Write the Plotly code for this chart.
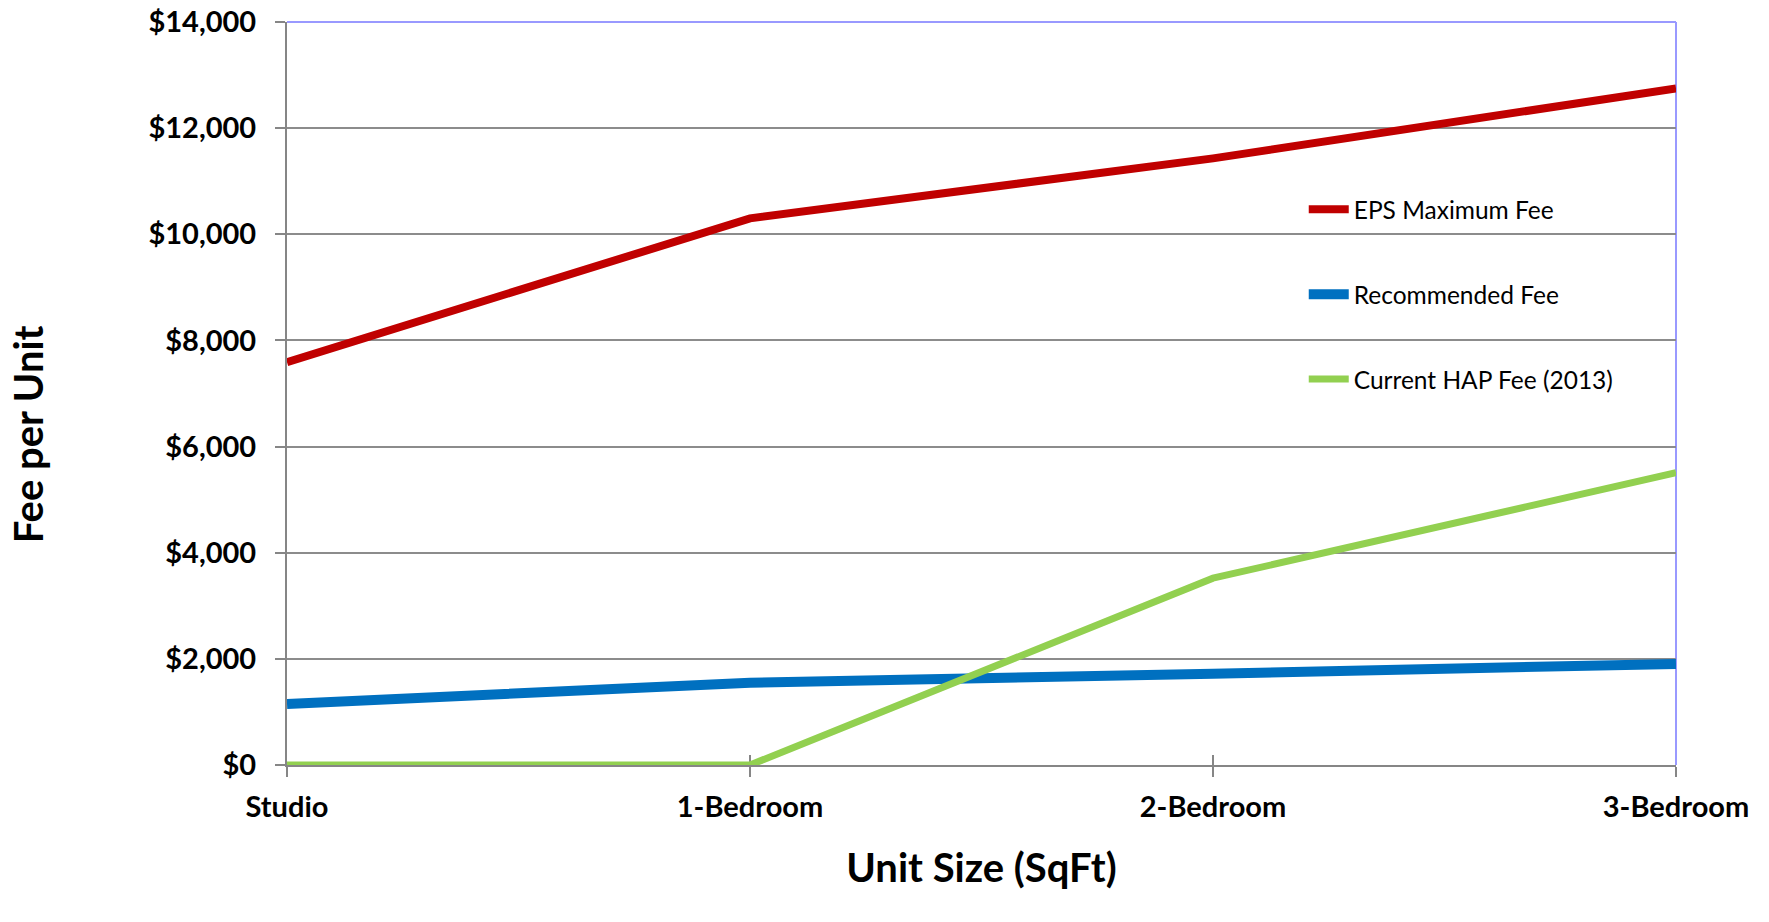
import plotly.graph_objects as go

categories = ["Studio", "1-Bedroom", "2-Bedroom", "3-Bedroom"]
eps_max_fee = [7590, 10300, 11430, 12750]
recommended_fee = [1150, 1550, 1720, 1905]
hap_fee_2013 = [0, 0, 3520, 5510]
y_ticks = [0, 2000, 4000, 6000, 8000, 10000, 12000, 14000]
y_tick_labels = ["$0", "$2,000", "$4,000", "$6,000", "$8,000", "$10,000", "$12,000", "$14,000"]

series = [
    ("EPS Maximum Fee", eps_max_fee, "#C00000", 8),
    ("Recommended Fee", recommended_fee, "#0070C0", 10),
    ("Current HAP Fee (2013)", hap_fee_2013, "#92D050", 7),
]

fig = go.Figure()
for i, (name, vals, color, w) in enumerate(series):
    fig.add_trace(go.Scatter(
        x=categories, y=vals, mode="lines", name=name, cliponaxis=False,
        line=dict(color=color, width=w), legendgroup=f"g{i}",
    ))

# invisible helper trace for the crossing (inside) x ticks
fig.add_trace(go.Scatter(x=categories, y=[None]*4, xaxis="x2", showlegend=False,
                         hoverinfo="skip", mode="lines"))

bold = dict(family="Lato", size=29, color="#000000", weight=700)

fig.update_layout(
    width=1769, height=922,
    margin=dict(l=287, r=93, t=22, b=157, autoexpand=False),
    paper_bgcolor="white", plot_bgcolor="white",
    font=dict(family="Lato", color="#000000"),
    showlegend=True,
    legend=dict(
        x=0.732, y=0.778, xanchor="left", yanchor="top",
        font=dict(family="Lato", size=24.5, color="#000000"),
        bgcolor="rgba(0,0,0,0)", tracegroupgap=50,
        itemwidth=40,
    ),
    xaxis=dict(
        type="category", range=[0, 3], categoryorder="array", categoryarray=categories,
        showline=True, linecolor="#868686", linewidth=2, layer="below traces",
        ticks="outside", ticklen=10, tickcolor="#868686", tickwidth=2,
        tickmode="array", tickvals=categories,
        tickfont=bold, ticklabelstandoff=5,
        showgrid=False, zeroline=False,
        title=dict(text="Unit Size (SqFt)", font=dict(family="Lato", size=40, weight=700),
                   standoff=32),
        mirror=False,
    ),
    xaxis2=dict(
        type="category", range=[0, 3], overlaying="x", matches="x", anchor="y",
        side="bottom", showline=False, ticks="inside", ticklen=10, layer="below traces",
        tickcolor="#868686", tickwidth=2, showticklabels=False, showgrid=False,
        zeroline=False, tickmode="array", tickvals=categories,
    ),
    yaxis=dict(
        range=[0, 14000], tickmode="array", tickvals=y_ticks, ticktext=y_tick_labels,
        showline=True, linecolor="#868686", linewidth=2, layer="below traces",
        ticks="outside", ticklen=10, tickcolor="#868686", tickwidth=2,
        tickfont=bold, ticklabelstandoff=13,
        showgrid=True, gridcolor="#8C8C8C", gridwidth=2,
        zeroline=False,
    ),
    annotations=[
        dict(text="Fee per Unit", textangle=-90, xref="paper", yref="paper",
             x=-0.1865, y=0.445, xanchor="center", yanchor="middle", showarrow=False,
             font=dict(family="Lato", size=40, weight=700, color="#000000")),
    ],
    shapes=[
        dict(type="line", xref="paper", yref="paper", x0=0, x1=1, y0=1, y1=1,
             layer="below", line=dict(color="#9999FF", width=2)),
        dict(type="line", xref="paper", yref="paper", x0=1, x1=1, y0=0, y1=1,
             layer="below", line=dict(color="#9999FF", width=2)),
    ],
)

fig.write_html("out.html")
